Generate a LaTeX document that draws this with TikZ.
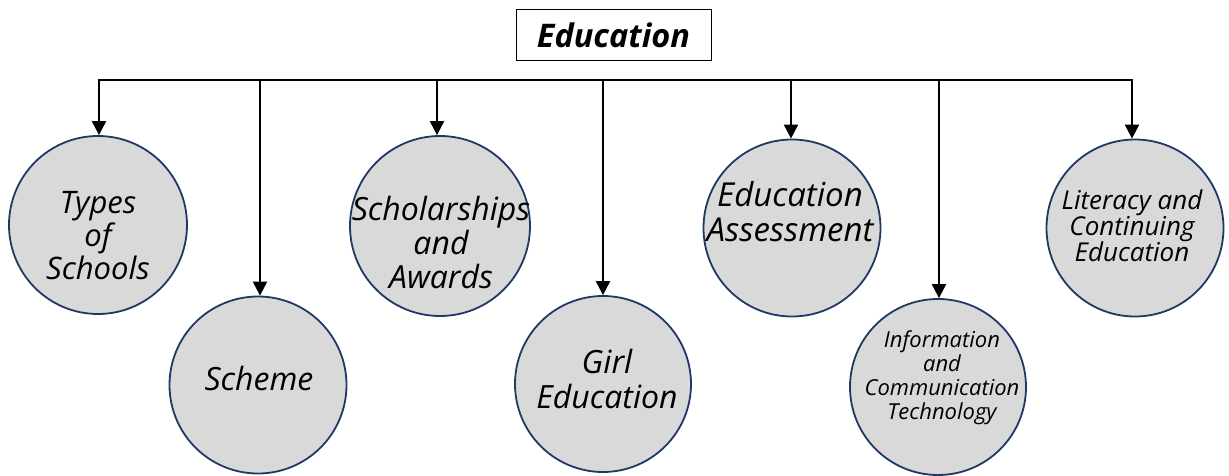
\documentclass[tikz,border=0pt]{standalone}
\usepackage{fontspec}
\setmainfont{Open Sans}
\usetikzlibrary{arrows.meta}
\definecolor{circfill}{HTML}{D9D9D9}
\definecolor{circline}{HTML}{1F3864}
\begin{document}
\begin{tikzpicture}[x=1pt,y=-1pt,
  topic/.style={circle,draw=circline,fill=circfill,line width=1.8pt,minimum size=#1,inner sep=0pt},
  lbl/.style={align=center,inner sep=0pt,font=\itshape},
  conn/.style={line width=2.2pt,-{Triangle[length=14pt,width=14pt]}},
  bar/.style={line width=2.2pt,line cap=rect}]
\useasboundingbox (0,0) rectangle (1229,476);
\node[draw=black,line width=1pt,minimum width=195pt,minimum height=51pt,inner sep=0pt,font=\bfseries\itshape\fontsize{32.5}{36}\selectfont] (title) at (613.5,35.5) {Education};
\coordinate (L) at (99,80);
\coordinate (R) at (1132,80);
\draw[bar] (L) -- (R);
\node[topic=178pt] (c1) at (98,225) {};
\node[topic=177pt] (c2) at (258,385) {};
\node[topic=180pt] (c3) at (440,226) {};
\node[topic=176pt] (c4) at (603,384) {};
\node[topic=177pt] (c5) at (792,228) {};
\node[topic=176pt] (c6) at (938,387) {};
\node[topic=177pt] (c7) at (1135,228) {};
\node[lbl,font=\itshape\fontsize{31}{33}\selectfont] (t1) at (98,236) {Types\\of\\Schools};
\node[lbl,font=\itshape\fontsize{32}{33}\selectfont] (t2) at (259,378) {Scheme};
\node[lbl,font=\itshape\fontsize{32}{34}\selectfont] (t3) at (441,242) {Scholarships\\and\\Awards};
\node[lbl,font=\itshape\fontsize{32}{35}\selectfont] (t4) at (607,379) {Girl\\Education};
\node[lbl,font=\itshape\fontsize{33}{35}\selectfont] (t5) at (790,212) {Education\\Assessment};
\node[lbl,font=\itshape\fontsize{22}{24}\selectfont] (t6) at (942,378) {Information\\and\\Communication\\Technology};
\node[lbl,font=\itshape\fontsize{26}{26}\selectfont] (t7) at (1132,226) {Literacy and\\Continuing\\Education};
\foreach \c/\x in {c1/99,c2/260,c3/437,c4/603,c5/791,c6/939,c7/1132}{
  \draw[conn] (\x,80) -- (\x,0 |- \c.north);
}
\end{tikzpicture}
\end{document}
